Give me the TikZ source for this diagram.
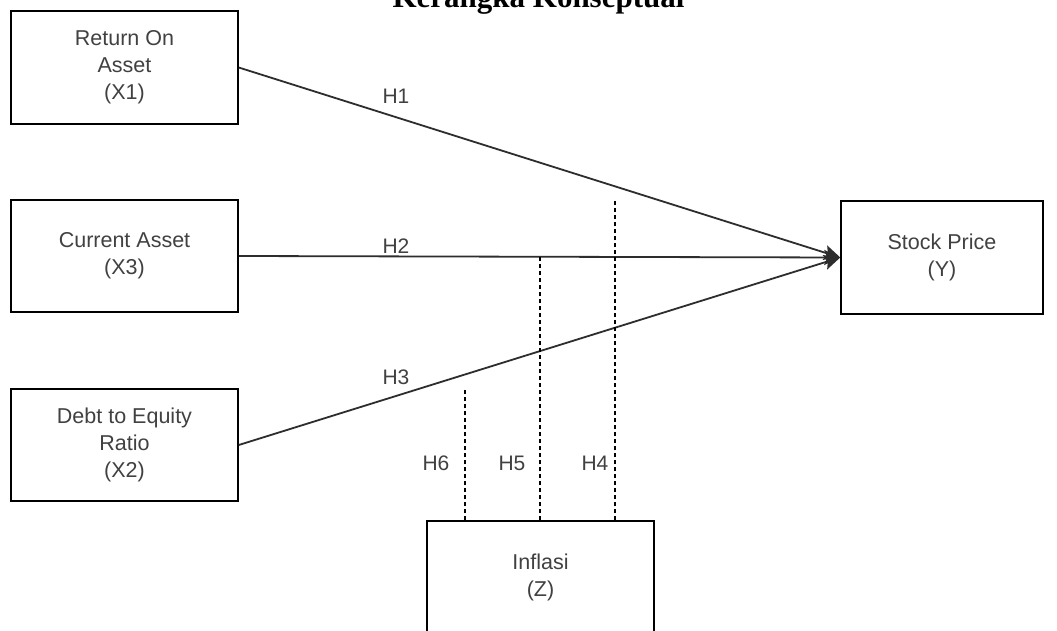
\documentclass[tikz,border=0pt]{standalone}
\usepackage{fontspec}
\newfontfamily\arialf{Liberation Sans}
\newfontfamily\timesf{Liberation Serif}
\usetikzlibrary{arrows.meta}
\definecolor{txtgray}{RGB}{65,65,65}
\definecolor{linegray}{RGB}{45,45,45}
\tikzset{
  varbox/.style={draw=black, line width=1.5pt, rectangle, align=center, text=txtgray,
    font=\arialf\fontsize{21.5}{27}\selectfont, inner sep=0pt},
  hlabel/.style={text=txtgray, font=\arialf\fontsize{21}{24}\selectfont, inner sep=0pt},
  effect/.style={draw=linegray, line width=1.8pt, -{Stealth[length=16pt,width=15pt,inset=3pt]}},
  moder/.style={draw=black, line width=1.3pt, dash pattern=on 4pt off 3pt}
}
\begin{document}
\begin{tikzpicture}[x=1pt,y=-1pt]
\useasboundingbox (0,0) rectangle (1057,631);
\clip (0,0) rectangle (1057,631);
\fill[white] (0,0) rectangle (1057,631);
\node[font=\timesf\bfseries\fontsize{31}{36}\selectfont, anchor=base, inner sep=0pt] (title) at (538.5,8) {Kerangka Konseptual};
\node[varbox, minimum width=227pt, minimum height=113pt] (roa) at (124.5,67.5) {Return On\\Asset\\(X1)};
\node[varbox, minimum width=227pt, minimum height=112pt] (ca) at (124.5,256) {Current Asset\\(X3)};
\node[varbox, minimum width=227pt, minimum height=112pt] (der) at (124.5,445) {Debt to Equity\\Ratio\\(X2)};
\node[varbox, minimum width=202pt, minimum height=113pt] (sp) at (942,257.5) {Stock Price\\(Y)};
\node[varbox, minimum width=227pt, minimum height=113pt] (inf) at (540.5,577.5) {Inflasi\\(Z)};
\draw[effect] (roa.east) -- (sp.west);
\draw[effect] (ca.east) -- (sp.west);
\draw[effect] (der.east) -- (sp.west);
\coordinate (t4) at (615,199);
\coordinate (t5) at (540,256);
\coordinate (t6) at (465,390);
\draw[moder] (inf.north -| t4) -- (t4);
\draw[moder] (inf.north -| t5) -- (t5);
\draw[moder] (inf.north -| t6) -- (t6);
\node[hlabel] (h1) at (396,96) {H1};
\node[hlabel] (h2) at (396,246) {H2};
\node[hlabel] (h3) at (396,377) {H3};
\node[hlabel] (h4) at (595,463) {H4};
\node[hlabel] (h5) at (512,463) {H5};
\node[hlabel] (h6) at (436,463) {H6};
\end{tikzpicture}
\end{document}
